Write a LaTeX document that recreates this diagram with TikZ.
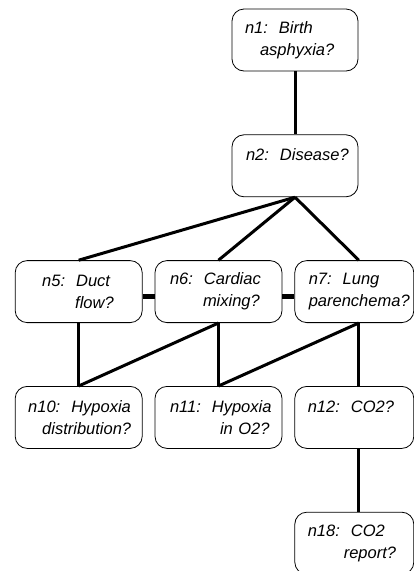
\documentclass[tikz,border=0pt]{standalone}
\usepackage{fontspec}
\setmainfont{Liberation Sans}
\usetikzlibrary{positioning}
\tikzset{
  qbox/.style={rounded corners=12pt, draw=black, line width=0.8pt, inner xsep=0pt,
               text width=127pt, align=left, minimum height=62pt,
               font=\fontsize{16.5}{22}\selectfont\itshape},
  nbox/.style={qbox, text width=119pt},
  link/.style={line width=3pt, draw=black},
  bar/.style={line width=4.5pt, draw=black},
}
\begin{document}
\begin{tikzpicture}[node distance=63pt and 12pt]
    \useasboundingbox (0,0) rectangle (413pt,-571pt);
    % top of the tree
    \node[qbox, text width=126pt] (n1) at (295pt,-40pt) {\hspace*{13pt}n1:~~Birth\\\hspace*{28pt}asphyxia?};
    \node[qbox, text width=126pt, below=of n1] (n2) {\hspace*{14pt}n2:~~Disease?\\\mbox{}};
    % middle row
    \node[qbox, below=of n2, xshift=-76.5pt] (n6) {\hspace*{15pt}n6:~~Cardiac\\\hspace*{48pt}mixing?};
    \node[qbox, left=of n6] (n5) {\hspace*{27pt}n5:~~Duct\\\hspace*{60pt}flow?};
    \node[nbox, right=of n6] (n7) {\hspace*{14pt}n7:~~Lung\\\hspace*{14pt}parenchema?};
    % bottom rows
    \node[qbox, below=of n5] (n10) {\hspace*{13pt}n10:~~Hypoxia\\\hspace*{27pt}distribution?};
    \node[qbox, below=of n6] (n11) {\hspace*{15pt}n11:~~Hypoxia\\\hspace*{65pt}in O2?};
    \node[nbox, below=of n7] (n12) {\hspace*{13pt}n12:~~CO2?\\\mbox{}};
    \node[nbox, below=of n12] (n18) {\hspace*{13pt}n18:~~CO2\\\hspace*{49pt}report?};

    \draw[link] (n1)--(n2);
    \draw[link] (n2.south)--(n5.north);
    \draw[link] (n2.south)--(n6.north);
    \draw[link] (n2.south)--([xshift=4.5pt]n7.north);
    \draw[bar] ([yshift=-5pt]n5.east)--([yshift=-5pt]n6.west);
    \draw[bar] ([yshift=-5pt]n6.east)--([yshift=-5pt]n7.west);
    \draw[link] (n5)--(n10);
    \draw[link] (n6.south)--(n10.north);
    \draw[link] (n6)--(n11);
    \draw[link] ([xshift=4.5pt]n7.south)--(n11.north);
    \draw[link] ([xshift=4.5pt]n7.south)--([xshift=4.5pt]n12.north);
    \draw[link] ([xshift=4.5pt]n12.south)--([xshift=4.5pt]n18.north);
\end{tikzpicture}
\end{document}
